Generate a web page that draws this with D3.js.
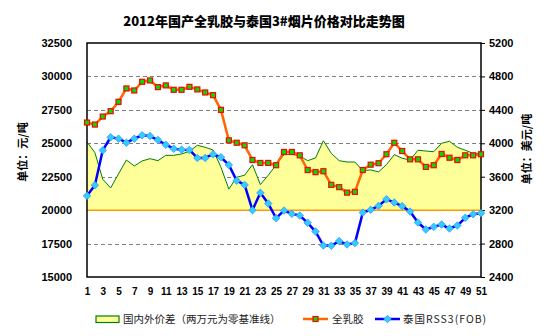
<!DOCTYPE html>
<html>
<head>
<meta charset="utf-8">
<script src="https://cdn.jsdelivr.net/npm/d3@7/dist/d3.min.js"></script>
<style>
  html, body { margin: 0; padding: 0; background: #fff; }
  svg { display: block; }
  .num { font-family: "Liberation Sans", Arial, sans-serif; font-weight: bold; font-size: 11px; fill: #000; }
  .cjk { font-family: "Noto Sans CJK SC", sans-serif; }
</style>
</head>
<body>
<svg id="chart" width="554" height="336"></svg>
<script>
// Week numbers of 2012
const weeks = [1,2,3,4,5,6,7,8,9,10,11,12,13,14,15,16,17,18,19,20,21,22,23,24,25,26,
  27,28,29,30,31,32,33,34,35,36,37,38,39,40,41,42,43,44,45,46,47,48,49,50,51];
const weekTicks = [1,3,5,7,9,11,13,15,17,19,21,23,25,27,29,31,33,35,37,39,41,43,45,47,49,51];

// Domestic whole-latex rubber (yuan/ton, left axis)
const wholeLatex = [26550,26400,27000,27400,28100,29100,28950,29600,29700,29200,29330,29000,29000,
  29220,29030,28800,28600,27500,25220,25040,24850,23750,23530,23530,23360,24350,
  24350,24100,23000,22840,22910,21890,21720,21310,21370,23000,23400,23510,
  24180,25040,24420,23800,23800,23230,23360,24200,23920,23750,24100,24100,24180];

// Thai RSS3 FOB (USD/ton, right axis)
const rss3 = [3371,3499,3916,4072,4055,4007,4055,4096,4087,4039,3983,3935,3924,
  3920,3824,3824,3869,3833,3741,3553,3502,3200,3407,3279,3104,3195,
  3156,3136,3048,2944,2777,2774,2830,2789,2806,3171,3204,3251,
  3331,3291,3248,3183,3052,2968,3000,3028,2980,3016,3108,3152,3164];

// Domestic/foreign spread, shifted so that 20000 is the zero line (left axis)
const spread = [25100,24300,22310,21660,22710,23750,23300,23680,23850,23700,24100,24100,24200,
  24400,24850,24700,24500,23210,21570,22460,22610,23400,21910,22610,23380,24150,
  24180,24050,23700,23900,25190,24250,23700,23600,23600,22950,23010,22860,
  23400,24150,23880,23750,24480,24420,24370,25000,25150,24700,24480,24250,24250];

const leftTicks = [15000,17500,20000,22500,25000,27500,30000,32500];
const rightTicks = [2400,2800,3200,3600,4000,4400,4800,5200];
const baseline = 20000;

const svg = d3.select("#chart");
const L = 87, R = 481, T = 43, B = 277;

const x = d3.scalePoint().domain(weeks).range([L, R]);
const yL = d3.scaleLinear().domain([15000, 32500]).range([B, T]);
const yR = d3.scaleLinear().domain([2400, 5200]).range([B, T]);

// Title
svg.append("text")
  .attr("x", 264).attr("y", 26)
  .attr("text-anchor", "middle")
  .attr("class", "cjk")
  .style("font-size", "13px").style("font-weight", "900")
  .text("2012年国产全乳胶与泰国3#烟片价格对比走势图");

// Dashed gridlines
svg.append("g")
  .selectAll("line")
  .data(leftTicks.filter(v => v !== 15000 && v !== 32500 && v !== baseline))
  .join("line")
  .attr("x1", L).attr("x2", R)
  .attr("y1", d => Math.round(yL(d)) + 0.5).attr("y2", d => Math.round(yL(d)) + 0.5)
  .attr("stroke", "#808080").attr("stroke-width", 1)
  .attr("stroke-dasharray", "4,3");

// Spread area from the baseline
const area = d3.area()
  .x((d, i) => x(weeks[i]))
  .y0(yL(baseline))
  .y1(d => yL(d));
svg.append("path")
  .datum(spread)
  .attr("d", area)
  .attr("fill", "#FFFF99");
svg.append("path")
  .datum(spread)
  .attr("d", d3.line().x((d, i) => x(weeks[i])).y(d => yL(d)))
  .attr("fill", "none").attr("stroke", "#008000").attr("stroke-width", 1);

// Baseline
svg.append("line")
  .attr("x1", L).attr("x2", R)
  .attr("y1", yL(baseline)).attr("y2", yL(baseline))
  .attr("stroke", "#FF9900").attr("stroke-width", 1.5);

// Plot frame
svg.append("rect")
  .attr("x", L).attr("y", T).attr("width", R - L).attr("height", B - T)
  .attr("fill", "none").attr("stroke", "#000").attr("stroke-width", 1.5);

// Left axis
const axL = svg.append("g").attr("transform", `translate(${L},0)`)
  .call(d3.axisLeft(yL).tickValues(leftTicks).tickSize(0).tickPadding(15).tickFormat(d3.format("d")));
axL.select(".domain").remove();
axL.selectAll("text").attr("class", "num").attr("font-family", null).attr("font-size", null);

// Right axis
const axR = svg.append("g").attr("transform", `translate(${R},0)`)
  .call(d3.axisRight(yR).tickValues(rightTicks).tickSize(4).tickPadding(4).tickFormat(d3.format("d")));
axR.select(".domain").remove();
axR.selectAll("line").attr("stroke", "#000");
axR.selectAll("text").attr("class", "num").attr("font-family", null).attr("font-size", null);

// Bottom axis labels
const axB = svg.append("g").attr("transform", `translate(0,${B})`)
  .call(d3.axisBottom(x).tickValues(weekTicks).tickSize(0).tickPadding(11));
axB.select(".domain").remove();
axB.selectAll("text").attr("class", "num").attr("font-family", null).attr("font-size", null)
  .style("font-size", "10px");

// Axis titles
svg.append("text")
  .attr("transform", "translate(27,152) rotate(-90)")
  .attr("text-anchor", "middle").attr("class", "cjk")
  .style("font-size", "11px").style("font-weight", "bold")
  .text("单位：元/吨");
svg.append("text")
  .attr("transform", "translate(531,149) rotate(-90)")
  .attr("text-anchor", "middle").attr("class", "cjk")
  .style("font-size", "11px").style("font-weight", "bold")
  .text("单位：美元/吨");

// Whole-latex line with square markers
svg.append("path")
  .datum(wholeLatex)
  .attr("d", d3.line().x((d, i) => x(weeks[i])).y(d => yL(d)))
  .attr("fill", "none").attr("stroke", "#FF6600").attr("stroke-width", 2.5)
  .attr("stroke-linejoin", "round");
svg.append("g").selectAll("rect")
  .data(wholeLatex)
  .join("rect")
  .attr("x", (d, i) => x(weeks[i]) - 2.5).attr("y", d => yL(d) - 2.5)
  .attr("width", 5).attr("height", 5)
  .attr("fill", "#00E000").attr("stroke", "#FF0000").attr("stroke-width", 1.2);

// RSS3 line with diamond markers
svg.append("path")
  .datum(rss3)
  .attr("d", d3.line().x((d, i) => x(weeks[i])).y(d => yR(d)))
  .attr("fill", "none").attr("stroke", "#0000FF").attr("stroke-width", 2.5)
  .attr("stroke-linejoin", "round");
const diamond = d3.symbol().type(d3.symbolDiamond2).size(36);
svg.append("g").selectAll("path")
  .data(rss3)
  .join("path")
  .attr("transform", (d, i) => `translate(${x(weeks[i])},${yR(d)})`)
  .attr("d", diamond)
  .attr("fill", "#33CCFF").attr("stroke", "#3399FF").attr("stroke-width", 0.8);

// Legend
const lg = svg.append("g");
lg.append("rect").attr("x", 96).attr("y", 316).attr("width", 23).attr("height", 6.5)
  .attr("fill", "#FFFF99").attr("stroke", "#008000").attr("stroke-width", 1.2);
lg.append("text").attr("x", 123).attr("y", 323).attr("class", "cjk")
  .style("font-size", "10.5px").style("fill", "#222")
  .text("国内外价差（两万元为零基准线）");
lg.append("line").attr("x1", 303).attr("x2", 328).attr("y1", 319).attr("y2", 319)
  .attr("stroke", "#FF6600").attr("stroke-width", 2.5);
lg.append("rect").attr("x", 313).attr("y", 316.5).attr("width", 5).attr("height", 5)
  .attr("fill", "#00E000").attr("stroke", "#FF0000").attr("stroke-width", 1.2);
lg.append("text").attr("x", 332).attr("y", 323).attr("class", "cjk")
  .style("font-size", "10.5px").style("fill", "#222").text("全乳胶");
lg.append("line").attr("x1", 375).attr("x2", 400).attr("y1", 319).attr("y2", 319)
  .attr("stroke", "#0000FF").attr("stroke-width", 2.5);
lg.append("path").attr("transform", "translate(387.5,319)").attr("d", diamond)
  .attr("fill", "#33CCFF").attr("stroke", "#3399FF").attr("stroke-width", 0.8);
lg.append("text").attr("x", 403).attr("y", 323).attr("class", "cjk")
  .style("font-size", "10.5px").style("fill", "#222").style("letter-spacing", "1px")
  .text("泰国RSS3(FOB)");
</script>
</body>
</html>
